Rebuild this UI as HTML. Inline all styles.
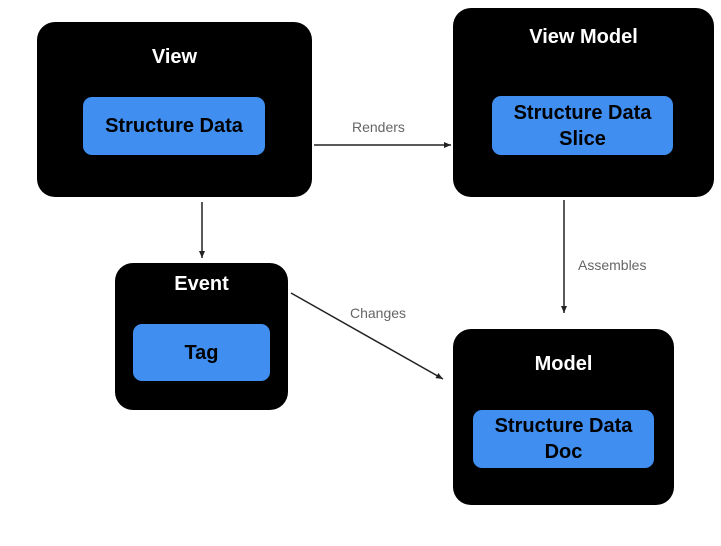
<!DOCTYPE html>
<html><head><style>
body{margin:0;width:721px;height:546px;background:#fff;position:relative;overflow:hidden;font-family:"Liberation Sans",sans-serif}
.b{position:absolute;background:#000;border-radius:18px}
.t{position:absolute;left:0;right:0;text-align:center;color:#fff;font-weight:bold;font-size:20px}
.i{position:absolute;background:#3f8ef0;border-radius:9px;display:flex;align-items:center;justify-content:center;text-align:center;font-weight:bold;font-size:20px;color:#000;line-height:26px}
.l{position:absolute;color:#666;font-size:14px}
</style></head><body>
<div class="b" style="left:37px;top:22px;width:275px;height:175px"><div class="t" style="top:24px">View</div></div>
<div class="i" style="left:83px;top:97px;width:182px;height:58px">Structure Data</div>
<div class="b" style="left:453px;top:8px;width:261px;height:189px"><div class="t" style="top:18px">View Model</div></div>
<div class="i" style="left:492px;top:96px;width:181px;height:59px">Structure Data<br>Slice</div>
<div class="b" style="left:115px;top:263px;width:173px;height:147px"><div class="t" style="top:10px">Event</div></div>
<div class="i" style="left:133px;top:324px;width:137px;height:57px">Tag</div>
<div class="b" style="left:453px;top:329px;width:221px;height:176px"><div class="t" style="top:24px">Model</div></div>
<div class="i" style="left:473px;top:410px;width:181px;height:58px">Structure Data<br>Doc</div>
<div class="l" style="left:352px;top:119px">Renders</div>
<div class="l" style="left:578px;top:257px">Assembles</div>
<div class="l" style="left:350px;top:305px">Changes</div>
<svg width="721" height="546" style="position:absolute;left:0;top:0">
<defs><marker id="a" markerWidth="8" markerHeight="8" refX="7" refY="4" orient="auto" markerUnits="userSpaceOnUse"><path d="M0,1 L7,4 L0,7z" fill="#222"/></marker></defs>
<g stroke="#222" stroke-width="1.5" fill="none">
<line x1="314" y1="145" x2="451" y2="145" marker-end="url(#a)"/>
<line x1="202" y1="202" x2="202" y2="258" marker-end="url(#a)"/>
<line x1="564" y1="200" x2="564" y2="313" marker-end="url(#a)"/>
<line x1="291" y1="293" x2="443" y2="379" marker-end="url(#a)"/>
</g></svg>
</body></html>
